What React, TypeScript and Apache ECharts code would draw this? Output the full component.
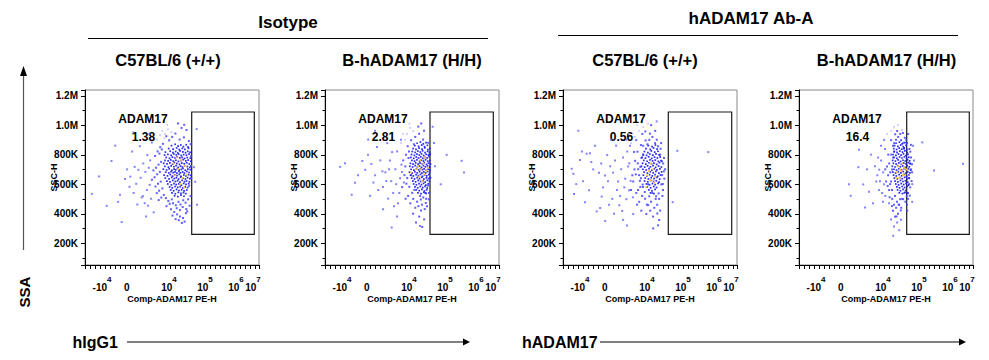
import React, { useEffect, useRef } from 'react';
import * as echarts from 'echarts';

const FONT = '"Liberation Sans", Arial, Helvetica, sans-serif';

// ---------- texts ----------
const groupTitles = ['Isotype', 'hADAM17 Ab-A'];
const panelTitles = ['C57BL/6 (+/+)', 'B-hADAM17 (H/H)', 'C57BL/6 (+/+)', 'B-hADAM17 (H/H)'];
const gateName = 'ADAM17';
const gatePercents = ['1.38', '2.81', '0.56', '16.4'];
const xAxisName = 'Comp-ADAM17 PE-H';
const yAxisName = 'SSC-H';
const leftAxisTitle = 'SSA';
const bottomTitles = ['hIgG1', 'hADAM17'];

// x axis: display channel (biexponential) positions of the decade labels
const xDecadeTicks: [number, string, string][] = [
  [17, '-10', '4'],
  [43, '0', ''],
  [84, '10', '4'],
  [120, '10', '5'],
  [151, '10', '6'],
  [168, '10', '7'],
];
const xChannelMax = 174;
// y axis (SSC-H, in K)
const yMinK = 53;
const yMaxK = 1239;

// gates per panel: [x0, x1] channel, [y0, y1] in K
const gateXs: [number, number][] = [[106.7, 169.3], [105, 168.3], [105.3, 168.7], [107.7, 170.3]];
const gateY: [number, number] = [260, 1090];

// ---------- events (display channel, SSC-H in K) ----------
const p1Core = [
  [86.5,862],[90.2,871],[93.1,858],[95.8,866],[98.4,855],[101.2,868],
  [83.7,842],[88.1,838],[91.6,846],[94.2,835],[97.3,843],[99.9,837],[103.5,845],
  [80.4,818],[85.2,824],[87.9,815],[90.7,822],[92.8,812],[95.1,826],[97.9,819],[100.6,814],[102.8,823],[105.1,816],
  [79.6,798],[82.9,803],[86.1,796],[88.8,806],[91.3,799],[93.7,804],[96.2,795],[98.6,801],[101.4,797],[104.0,805],
  [81.2,782],[84.5,776],[87.4,784],[89.9,778],[92.2,786],[94.8,779],[97.1,783],[99.6,775],[102.3,781],[105.4,777],
  [80.0,762],[83.1,758],[85.8,765],[88.3,757],[90.9,763],[93.4,755],[95.9,761],[98.2,767],[100.8,759],[103.2,764],[105.8,756],
  [78.7,742],[82.0,738],[84.9,745],[87.6,736],[89.4,748],[91.8,741],[94.5,735],[96.8,744],[99.2,739],[101.7,746],[104.3,737],
  [79.9,722],[83.4,716],[86.2,725],[88.9,719],[91.1,727],[93.2,714],[95.6,723],[97.5,717],[99.8,726],[102.4,720],[104.9,715],
  [78.3,702],[81.6,697],[84.2,705],[86.9,694],[89.1,703],[90.6,698],[92.4,706],[94.1,696],[96.3,701],[98.0,707],[100.2,695],[102.9,703],[105.3,699],
  [80.7,682],[83.8,677],[86.0,686],[88.2,679],[90.0,684],[91.9,675],[93.9,688],[95.4,678],[97.6,683],[99.4,676],[101.9,687],[104.1,680],
  [79.1,662],[82.5,657],[85.3,666],[87.5,655],[89.7,664],[92.0,659],[94.3,667],[96.1,654],[98.8,663],[100.9,656],[103.6,665],[105.7,660],
  [80.3,642],[84.0,637],[86.7,646],[89.3,639],[91.4,644],[93.6,635],[95.7,648],[98.1,641],[100.4,636],[102.6,645],[104.8,638],
  [81.9,622],[85.0,616],[87.8,626],[90.4,619],[92.6,624],[94.9,615],[97.2,627],[99.5,618],[101.6,623],[104.4,617],
  [82.8,602],[86.4,596],[89.0,605],[91.2,598],[93.8,603],[96.4,594],[98.7,606],[101.0,599],[103.7,604],
  [84.6,582],[87.3,576],[90.1,585],[92.7,579],[95.2,584],[97.8,575],[100.3,583],[102.7,578],
  [85.7,562],[88.6,556],[91.5,565],[94.0,558],[96.6,563],[99.1,555],[101.8,561],
  [87.0,542],[90.3,536],[93.3,545],[95.9,538],[98.5,544],[100.7,537],
  [89.6,522],[92.9,517],[96.0,526],[99.0,519],
];
const p1Halo = [
  [93.0,1012],[99.2,1003],[101.5,968],[96.5,982],[90.4,944],[87.2,921],[84.1,898],[81.3,926],[94.6,903],[98.9,918],
  [103.9,893],[105.6,872],[77.9,874],[75.2,851],[72.6,823],[70.1,792],[74.4,808],[76.8,836],
  [76.1,752],[73.5,733],[71.0,712],[68.4,694],[74.9,684],[72.2,668],[69.6,648],[66.9,631],[75.7,618],[73.0,603],
  [70.5,585],[77.4,572],[74.1,556],[71.8,540],[78.8,528],[76.3,510],[73.7,493],[80.9,506],[83.3,487],[86.8,498],
  [84.7,468],[81.5,452],[88.0,472],
  [90.8,458],[93.5,481],[95.5,463],[98.2,492],[100.6,475],[103.1,498],[105.5,520],[91.7,438],[94.9,425],[97.7,446],
  [101.3,432],[104.6,455],[89.2,412],[92.1,396],[95.0,382],[98.0,371],[100.9,404],[87.5,388],[93.8,357],[96.9,338],
  [99.6,347],[102.2,416],[90.6,364],[86.0,431],[104.2,590],[106.1,642],[106.0,724],[105.9,790],[103.0,852],
];
const p1Sparse = [
  [65.2,762],[62.3,798],[63.8,712],[60.4,684],[64.7,596],[61.9,561],[58.3,741],[55.6,644],[57.9,520],[66.1,502],
  [63.1,455],[59.7,472],[53.4,698],[51.2,603],[48.6,541],[45.3,652],[49.7,718],[47.2,822],[54.8,858],[66.8,883],
  [64.4,942],[61.1,382],[68.7,410],[42.1,701],[44.5,583],[52.3,463],[56.7,511],
  [6.8,535],[14.1,653],[21.7,454],[36.7,344],[35.0,529],[40.0,635],[30.2,862],[26.5,758],[48.4,951],[33.1,481],
  [111.7,974],[109.0,716],[112.0,461],[110.2,617],
];
const p1Pale = [[77.2,962],[80.1,941],[83.0,972],[86.3,953],[79.4,912],[75.1,933],[82.2,1002],[72.0,903]];
const p1Hot = [[93.1,702],[97.4,642],[90.2,661],[100.1,724],[95.3,603],[88.4,741],[102.0,667],[96.2,763],[92.5,782],[99.0,578]];

const p2Core = [
  [92.1,878],[95.4,886],[98.3,874],[101.0,883],
  [89.8,862],[93.6,857],[96.7,866],[99.5,855],[102.4,864],
  [88.2,842],[91.0,836],[94.1,845],[97.0,838],[99.8,847],[102.9,835],[104.8,843],
  [87.3,822],[90.2,816],[92.8,825],[95.3,818],[97.6,827],[100.1,815],[102.6,823],[104.5,817],
  [86.5,802],[89.4,796],[91.9,805],[94.3,798],[96.5,806],[98.7,795],[101.2,803],[103.4,797],[105.2,804],
  [85.8,782],[88.7,776],[91.3,785],[93.5,778],[95.8,786],[97.9,775],[99.9,783],[102.1,779],[104.2,787],
  [86.9,762],[89.6,757],[92.0,765],[94.6,755],[96.2,763],[98.4,758],[100.6,766],[102.8,756],[104.9,761],
  [85.4,742],[88.0,737],[90.7,745],[93.1,736],[95.0,744],[97.3,739],[99.3,747],[101.5,735],[103.6,743],[105.5,738],
  [84.8,722],[87.6,717],[90.1,726],[92.4,719],[94.4,724],[96.6,715],[98.5,727],[100.4,718],[102.5,725],[104.6,716],
  [86.1,702],[88.9,696],[91.5,705],[93.8,697],[95.6,706],[97.4,699],[99.1,704],[101.0,695],[103.1,703],[105.0,698],
  [84.5,682],[87.1,676],[89.8,685],[92.3,678],[94.7,686],[96.9,675],[98.8,684],[100.7,677],[102.7,687],[104.7,680],
  [85.6,662],[88.4,656],[91.1,665],[93.3,658],[95.5,667],[97.5,654],[99.6,663],[101.8,657],[103.9,666],
  [86.7,642],[89.5,636],[92.2,645],[94.5,638],[96.8,647],[98.9,635],[101.3,644],[103.5,639],[105.3,646],
  [87.9,622],[90.6,617],[93.2,626],[95.7,619],[97.8,624],[100.2,615],[102.3,627],[104.4,620],
  [88.6,602],[91.4,596],[94.0,605],[96.4,598],[98.6,606],[100.9,594],[103.2,603],
  [90.0,582],[92.7,576],[95.2,585],[97.7,578],[100.0,586],[102.2,575],
  [91.2,562],[94.2,557],[96.9,566],[99.4,555],[101.7,563],
  [93.0,542],[96.0,537],[98.8,546],[101.1,539],
];
const p2Halo = [
  [96.2,1012],[93.3,991],[99.0,962],[94.1,942],[90.2,921],[98.1,903],[86.1,899],[103.2,881],[88.9,871],[84.0,822],[82.7,858],
  [83.5,778],[80.3,721],[82.2,642],[84.3,583],[79.4,662],[78.2,762],[77.1,581],[80.6,502],[83.1,521],[81.4,604],
  [81.0,801],[85.3,471],[87.2,542],[88.2,501],[89.4,562],[86.3,661],
  [92.1,482],[97.0,461],[101.1,502],[96.0,422],[90.3,441],[94.2,381],[99.1,362],[91.0,341],[97.2,311],[88.1,401],
  [102.0,451],[95.1,521],[100.2,541],[104.0,541],[103.1,591],[105.0,721],[105.2,642],[104.3,801],[98.2,511],[93.4,452],
  [99.7,432],[95.8,497],[100.8,473],[103.7,498],
];
const p2Sparse = [
  [70.3,702],[66.2,621],[72.1,823],[65.0,761],[60.4,681],[68.2,541],[73.0,472],[62.3,879],[75.1,641],[58.0,582],
  [71.2,601],[64.1,702],[76.0,902],[55.3,762],[69.0,452],[74.3,541],[61.2,622],[67.1,818],[57.4,688],[63.2,503],
  [50.1,661],[46.3,738],[53.2,561],[43.0,801],[48.4,612],[40.2,698],[52.0,852],[45.1,522],[77.0,683],[78.9,612],[76.4,733],
  [20.0,742],[15.2,718],[26.7,529],[33.0,661],[37.3,758],[43.2,903],[50.0,962],[66.7,307],[95.0,318],[58.1,431],
  [30.0,611],[72.0,382],
  [107.7,990],[121.7,800],[136.7,759],[139.0,680],[115.7,600],[110.0,722],[109.0,880],
];
const p2Pale = [[82.0,941],[85.1,982],[88.2,961],[80.1,902],[78.2,942],[84.3,1011],[76.0,881]];
const p2Hot = [[96.1,701],[99.2,668],[93.0,722],[101.3,692],[95.2,763],[97.1,621],[91.0,702],[98.3,741],[94.4,652],[86.2,681],[100.1,782],[103.0,712]];

const p3Core = [
  [85.3,862],[89.1,855],[92.4,866],
  [83.0,842],[87.2,836],[90.6,846],[94.1,838],
  [81.4,822],[84.9,815],[88.3,826],[91.7,818],[95.0,824],
  [80.2,802],[83.6,796],[86.8,805],[89.9,797],[93.0,806],[96.1,799],
  [79.1,782],[82.5,777],[85.7,786],[88.7,775],[91.5,784],[94.4,778],[97.2,785],
  [80.8,762],[84.1,756],[87.0,765],[89.6,758],[92.3,764],[95.3,755],[98.0,761],
  [79.6,742],[82.9,737],[85.9,746],[88.5,739],[91.0,744],[93.7,735],[96.5,747],
  [78.4,722],[81.7,716],[84.6,725],[87.4,718],[90.0,727],[92.6,715],[95.6,723],[98.4,717],
  [79.9,702],[83.2,697],[86.0,706],[88.9,695],[91.3,704],[94.0,698],[96.9,705],
  [81.1,682],[84.4,676],[87.3,685],[90.2,678],[92.9,687],[95.9,675],[98.6,684],
  [80.4,662],[83.8,656],[86.6,665],[89.3,657],[92.0,666],[94.8,654],[97.5,663],
  [82.2,642],[85.4,636],[88.2,645],[91.1,638],[93.9,647],[96.7,635],
  [81.6,622],[84.8,617],[87.7,626],[90.5,619],[93.3,624],[96.0,615],
  [83.4,602],[86.5,596],[89.5,605],[92.2,598],[95.1,606],
  [84.3,582],[87.6,576],[90.8,585],[93.6,578],
  [85.8,562],[89.0,556],[92.1,565],
  [87.5,542],[90.9,537],
];
const p3Halo = [
  [75.2,702],[78.0,641],[72.1,759],[77.3,582],[74.4,821],[79.2,521],[76.1,662],[70.2,619],[73.3,541],[80.1,861],
  [71.4,701],[78.4,779],[97.2,801],[99.1,662],[100.0,561],[98.3,599],[96.1,501],[94.2,461],[91.3,441],[88.0,481],
  [85.2,459],[82.1,502],[86.3,901],[92.1,879],[89.4,921],[95.0,858],[100.2,741],[101.3,638],[99.4,521],[93.1,519],
  [80.3,799],[77.4,718],[75.0,561],[83.3,399],[90.1,381],[87.2,421],[94.3,402],[96.2,358],[84.4,871],[98.1,879],
  [76.2,481],[69.3,661],[68.0,561],[71.1,819],[73.2,899],[79.3,941],[92.2,962],[88.1,1001],[82.3,958],[97.1,422],
  [90.2,301],[95.1,322],[86.2,519],[89.3,541],[102.1,702],[101.0,779],[78.3,421],[74.1,462],[80.0,582],[85.1,601],
  [81.8,548],[83.9,462],[92.7,501],[95.6,538],[99.8,602],[100.9,688],[98.9,756],[97.6,841],[93.8,902],[86.9,943],
  [82.6,897],[77.9,866],[74.8,742],[76.9,623],[72.7,667],[79.7,598],
];
const p3Sparse = [
  [65.1,721],[62.2,638],[60.0,781],[66.1,559],[58.2,702],[63.4,499],[67.0,861],[55.1,619],[61.3,579],[64.2,822],
  [57.1,521],[52.0,761],[56.3,458],[59.2,419],[50.1,679],[54.0,561],[47.2,722],[45.0,621],[49.3,501],[53.1,862],
  [44.2,798],[42.0,659],[40.1,579],[48.0,901],[38.2,741],[51.0,401],[46.1,461],[36.0,679],[67.6,623],[69.9,512],
  [66.3,742],[63.7,903],
  [15.3,963],[8.7,705],[10.3,671],[11.0,535],[17.0,764],[23.7,807],[27.0,811],[33.7,416],[38.7,517],[20.1,621],
  [30.2,701],[26.0,559],[32.1,861],[13.2,601],[22.0,479],[37.1,439],[28.3,751],[19.0,822],[42.2,351],[60.1,359],
  [64.0,321],[70.2,399],[93.7,1026],
  [114.3,827],[145.3,818],[109.7,479],
];
const p3Pale = [[72.0,921],[76.1,961],[80.2,989],[68.1,879],[74.3,1001],[85.0,1011],[66.2,941]];
const p3Hot = [[86.1,691],[90.2,702],[84.0,661],[92.3,650],[88.1,741],[83.2,581],[91.0,612],[87.4,628]];

const p4Core = [
  [97.1,878],[100.4,886],[103.2,874],[106.0,883],
  [95.6,862],[98.8,857],[101.7,866],[104.3,855],[107.1,864],
  [94.7,842],[97.6,836],[100.2,845],[102.8,838],[105.1,847],[107.8,835],
  [95.2,822],[98.0,816],[100.9,825],[103.5,818],[105.9,826],[108.3,815],
  [94.1,802],[96.9,796],[99.5,805],[102.1,798],[104.5,806],[106.8,795],[109.0,803],
  [95.0,782],[97.8,776],[100.6,785],[103.0,778],[105.4,786],[107.5,775],[109.8,783],
  [93.6,762],[96.4,757],[99.1,765],[101.6,755],[104.0,763],[106.3,758],[108.6,766],[110.6,759],
  [94.4,742],[97.2,737],[99.9,745],[102.4,736],[104.8,744],[107.0,739],[109.3,747],[111.2,741],
  [93.3,722],[96.1,717],[98.7,726],[101.3,719],[103.7,724],[106.0,715],[108.1,727],[110.3,718],
  [94.9,702],[97.5,696],[100.0,705],[102.6,697],[105.0,706],[107.3,699],[109.5,704],[111.6,695],
  [93.9,682],[96.6,676],[99.3,685],[101.9,678],[104.2,686],[106.6,675],[108.8,684],[110.9,677],
  [94.6,662],[97.3,656],[100.1,665],[102.7,658],[105.2,667],[107.6,654],[109.9,663],
  [95.4,642],[98.2,636],[100.8,645],[103.3,638],[105.7,647],[108.0,635],[110.1,644],
  [96.0,622],[98.9,617],[101.5,626],[104.0,619],[106.4,624],[108.7,615],
  [96.8,602],[99.6,596],[102.2,605],[104.7,598],[107.1,606],[109.4,594],
  [97.9,582],[100.5,576],[103.1,585],[105.6,578],[108.2,586],
  [98.6,562],[101.4,556],[104.1,565],[106.7,558],
  [100.3,542],[103.4,537],[106.1,546],[108.4,539],
];
const p4Halo = [
  [93.1,700],[94.2,781],[92.0,619],[95.1,821],[91.3,681],[93.0,561],[94.1,861],[90.2,741],[96.0,521],[92.2,801],
  [89.1,661],[95.2,879],[93.2,501],[91.1,601],[97.0,901],[99.2,921],[102.1,899],[104.3,881],[101.1,499],[98.0,481],
  [103.2,501],[100.1,461],[97.1,441],[99.0,401],[96.1,381],[95.0,461],[102.2,441],[104.1,499],[105.3,541],[105.0,841],
  [88.0,721],[87.1,619],[90.1,561],[89.3,801],[86.2,701],[94.0,421],[101.2,941],[98.1,961],[96.2,939],[92.1,899],
  [110.2,601],[111.1,741],[112.1,701],[109.0,541],[110.3,839],[108.1,879],[111.2,579],[109.1,501],[112.0,781],[110.1,641],
  [108.0,461],[107.2,901],[111.3,821],[109.2,941],[113.1,681],[108.2,421],[112.6,622],[113.0,735],[111.9,867],[110.7,523],
  [106.4,482],[107.7,518],[105.8,915],[103.9,948],[99.7,462],[101.8,423],[97.5,382],[92.9,452],[90.6,512],[88.7,588],
];
const p4Sparse = [
  [84.2,681],[82.1,761],[85.0,601],[80.2,699],[83.1,541],[86.0,839],[81.0,621],[79.1,781],[84.0,481],[85.2,901],
  [78.3,661],[82.0,861],[76.0,722],[86.3,521],[80.1,561],[77.2,619],
  [50.0,601],[51.7,522],[60.0,834],[59.3,716],[66.0,443],[70.0,549],[72.1,801],[74.0,471],[95.0,314],[98.1,341],
  [100.2,289],[92.0,361],[68.1,701],[64.2,599],[102.0,359],[90.1,471],[94.2,251],
  [123.3,884],[135.0,694],[164.0,739],[114.0,861],[113.3,601],[115.0,761],[113.2,481],
];
const p4Pale = [[92.0,961],[95.1,989],[99.0,1001],[88.2,941],[103.1,969]];
const p4Hot = [[101.1,701],[104.0,661],[99.2,722],[103.1,741],[100.3,642],[102.2,690],[98.0,681],[105.1,712],[97.3,640],[108.0,701],[106.2,664]];

const panels = [
  { core: p1Core, halo: p1Halo, sparse: p1Sparse, pale: p1Pale, hot: p1Hot },
  { core: p2Core, halo: p2Halo, sparse: p2Sparse, pale: p2Pale, hot: p2Hot },
  { core: p3Core, halo: p3Halo, sparse: p3Sparse, pale: p3Pale, hot: p3Hot },
  { core: p4Core, halo: p4Halo, sparse: p4Sparse, pale: p4Pale, hot: p4Hot },
];

// ---------- layout ----------
const gridLefts = [85, 325, 563, 799];
const gridTop = 90;
const gridW = 174;
const gridH = 175;

function buildOption() {
  const grids: any[] = [];
  const xAxes: any[] = [];
  const yAxes: any[] = [];
  const series: any[] = [];
  const graphics: any[] = [];

  const labelMap: Record<number, string> = {};
  xDecadeTicks.forEach(([pos, base, exp]) => {
    labelMap[pos] = `{b|${base}}{s|${exp || ' '}}`;
  });

  const txt = (text: string, x: number, y: number, size: number, extra: any = {}) => ({
    type: 'text',
    x,
    y,
    silent: true,
    ...extra,
    style: {
      text,
      fontSize: size,
      fontWeight: 'bold',
      fontFamily: FONT,
      fill: '#000',
      align: 'center',
      verticalAlign: 'middle',
      textAlign: 'center',
      textVerticalAlign: 'middle',
    },
  });

  panels.forEach((p, i) => {
    const left = gridLefts[i];
    grids.push({
      left,
      top: gridTop,
      width: gridW,
      height: gridH,
      show: true,
      borderColor: '#8a8a8a',
      borderWidth: 1,
      backgroundColor: 'transparent',
    });
    xAxes.push({
      type: 'value',
      gridIndex: i,
      min: 0,
      max: xChannelMax,
      interval: 5,
      position: 'bottom',
      axisLine: { show: true, onZero: false, lineStyle: { color: '#000', width: 1 } },
      axisTick: { show: true, length: 4, lineStyle: { color: '#000', width: 1 } },
      axisLabel: { show: false },
      splitLine: { show: false },
      name: xAxisName,
      nameLocation: 'middle',
      nameGap: 29,
      nameMoveOverlap: false,
      nameTextStyle: { fontSize: 9, fontWeight: 'bold', fontFamily: FONT, color: '#000' },
    });
    xAxes.push({
      type: 'value',
      gridIndex: i,
      min: 0,
      max: xChannelMax,
      interval: 1,
      position: 'bottom',
      axisLine: { show: false },
      axisTick: { show: false },
      splitLine: { show: false },
      axisLabel: {
        show: true,
        margin: 10.8,
        formatter: (v: number) => labelMap[Math.round(v)] || '',
        rich: {
          b: { fontSize: 10, fontWeight: 'bold', fontFamily: FONT, color: '#000' },
          s: { fontSize: 8, fontWeight: 'bold', fontFamily: FONT, color: '#000', padding: [0, 0, 15, 0] },
        },
      },
    });
    yAxes.push({
      type: 'value',
      gridIndex: i,
      min: yMinK,
      max: yMaxK,
      splitNumber: 5,
      axisLine: { show: true, onZero: false, lineStyle: { color: '#000', width: 1 } },
      axisTick: { show: true, length: 4, lineStyle: { color: '#000', width: 1 } },
      minorTick: { show: true, splitNumber: 2, length: 2.5, lineStyle: { color: '#000', width: 1 } },
      splitLine: { show: false },
      axisLabel: {
        margin: 7,
        fontSize: 10,
        fontWeight: 'bold',
        fontFamily: FONT,
        color: '#000',
        showMinLabel: false,
        showMaxLabel: false,
        formatter: (v: number) => (v >= 1000 ? (v / 1000).toFixed(1) + 'M' : Math.round(v) + 'K'),
      },
      name: yAxisName,
      nameLocation: 'middle',
      nameGap: 27,
      nameMoveOverlap: false,
      nameTextStyle: { fontSize: 9, fontWeight: 'bold', fontFamily: FONT, color: '#000' },
    });

    const base = {
      type: 'scatter',
      xAxisIndex: i * 2,
      yAxisIndex: i,
      symbol: 'rect',
      symbolSize: 1.7,
      silent: true,
    };
    series.push({
      ...base,
      name: `p${i}-sparse`,
      data: p.sparse,
      symbolSize: 2,
      itemStyle: { color: '#6464ff', opacity: 0.8 },
      markArea: {
        silent: true,
        itemStyle: { color: 'rgba(0,0,0,0)', borderColor: '#1a1a1a', borderWidth: 1.2 },
        data: [[{ xAxis: gateXs[i][0], yAxis: gateY[0] }, { xAxis: gateXs[i][1], yAxis: gateY[1] }]],
      },
    });
    series.push({ ...base, name: `p${i}-pale`, data: p.pale, itemStyle: { color: '#bcbcff', opacity: 0.9 } });
    series.push({ ...base, name: `p${i}-halo`, data: p.halo, symbolSize: 2, itemStyle: { color: '#4444ff', opacity: 0.85 } });
    series.push({ ...base, name: `p${i}-core`, data: p.core, itemStyle: { color: '#2020f0', opacity: 0.95 } });
    series.push({ ...base, name: `p${i}-hot`, data: p.hot, symbolSize: 2, itemStyle: { color: '#ffc23a', opacity: 0.95 } });

    graphics.push(txt(gateName, left + 58, 119, 12));
    graphics.push(txt(gatePercents[i], left + 58.5, 137, 12));
  });

  // headers
  graphics.push(txt(groupTitles[0], 288, 22, 17));
  graphics.push(txt(groupTitles[1], 751, 18.5, 17));
  graphics.push({ type: 'line', silent: true, shape: { x1: 88, y1: 38.5, x2: 488, y2: 38.5 }, style: { stroke: '#000', lineWidth: 1.2 } });
  graphics.push({ type: 'line', silent: true, shape: { x1: 558, y1: 35.5, x2: 958, y2: 35.5 }, style: { stroke: '#000', lineWidth: 1.2 } });
  const subCenters = [168, 412, 645, 886.5];
  panelTitles.forEach((t, i) => graphics.push(txt(t, subCenters[i], 60, 16.5)));

  // left SSA arrow
  graphics.push({ type: 'line', silent: true, shape: { x1: 23.5, y1: 250, x2: 23.5, y2: 74 }, style: { stroke: '#555', lineWidth: 1.2 } });
  graphics.push({ type: 'polygon', silent: true, shape: { points: [[23.5, 66], [20, 76], [27, 76]] }, style: { fill: '#000' } });
  graphics.push(txt(leftAxisTitle, 24, 292, 15, { rotation: Math.PI / 2 }));

  // bottom arrows
  graphics.push({
    type: 'text', silent: true, x: 72.5, y: 342,
    style: { text: bottomTitles[0], fontSize: 16, fontWeight: 'bold', fontFamily: FONT, fill: '#000', align: 'left', verticalAlign: 'middle' },
  });
  graphics.push({ type: 'line', silent: true, shape: { x1: 127, y1: 342, x2: 464, y2: 342 }, style: { stroke: '#000', lineWidth: 1 } });
  graphics.push({ type: 'polygon', silent: true, shape: { points: [[470, 342], [463, 338.5], [463, 345.5]] }, style: { fill: '#000' } });
  graphics.push({
    type: 'text', silent: true, x: 522, y: 342,
    style: { text: bottomTitles[1], fontSize: 16, fontWeight: 'bold', fontFamily: FONT, fill: '#000', align: 'left', verticalAlign: 'middle' },
  });
  graphics.push({ type: 'line', silent: true, shape: { x1: 600, y1: 342, x2: 960, y2: 342 }, style: { stroke: '#000', lineWidth: 1 } });
  graphics.push({ type: 'polygon', silent: true, shape: { points: [[966, 342], [959, 338.5], [959, 345.5]] }, style: { fill: '#000' } });

  return {
    animation: false,
    backgroundColor: '#ffffff',
    grid: grids,
    xAxis: xAxes,
    yAxis: yAxes,
    series,
    graphic: { elements: graphics },
  };
}

export default function App() {
  const ref = useRef<HTMLDivElement>(null);
  useEffect(() => {
    document.body.style.margin = '0';
    const chart = echarts.init(ref.current as HTMLDivElement, undefined, { renderer: 'svg' });
    chart.setOption(buildOption() as any);
    return () => chart.dispose();
  }, []);
  return <div ref={ref} style={{ width: 989, height: 360 }} />;
}
